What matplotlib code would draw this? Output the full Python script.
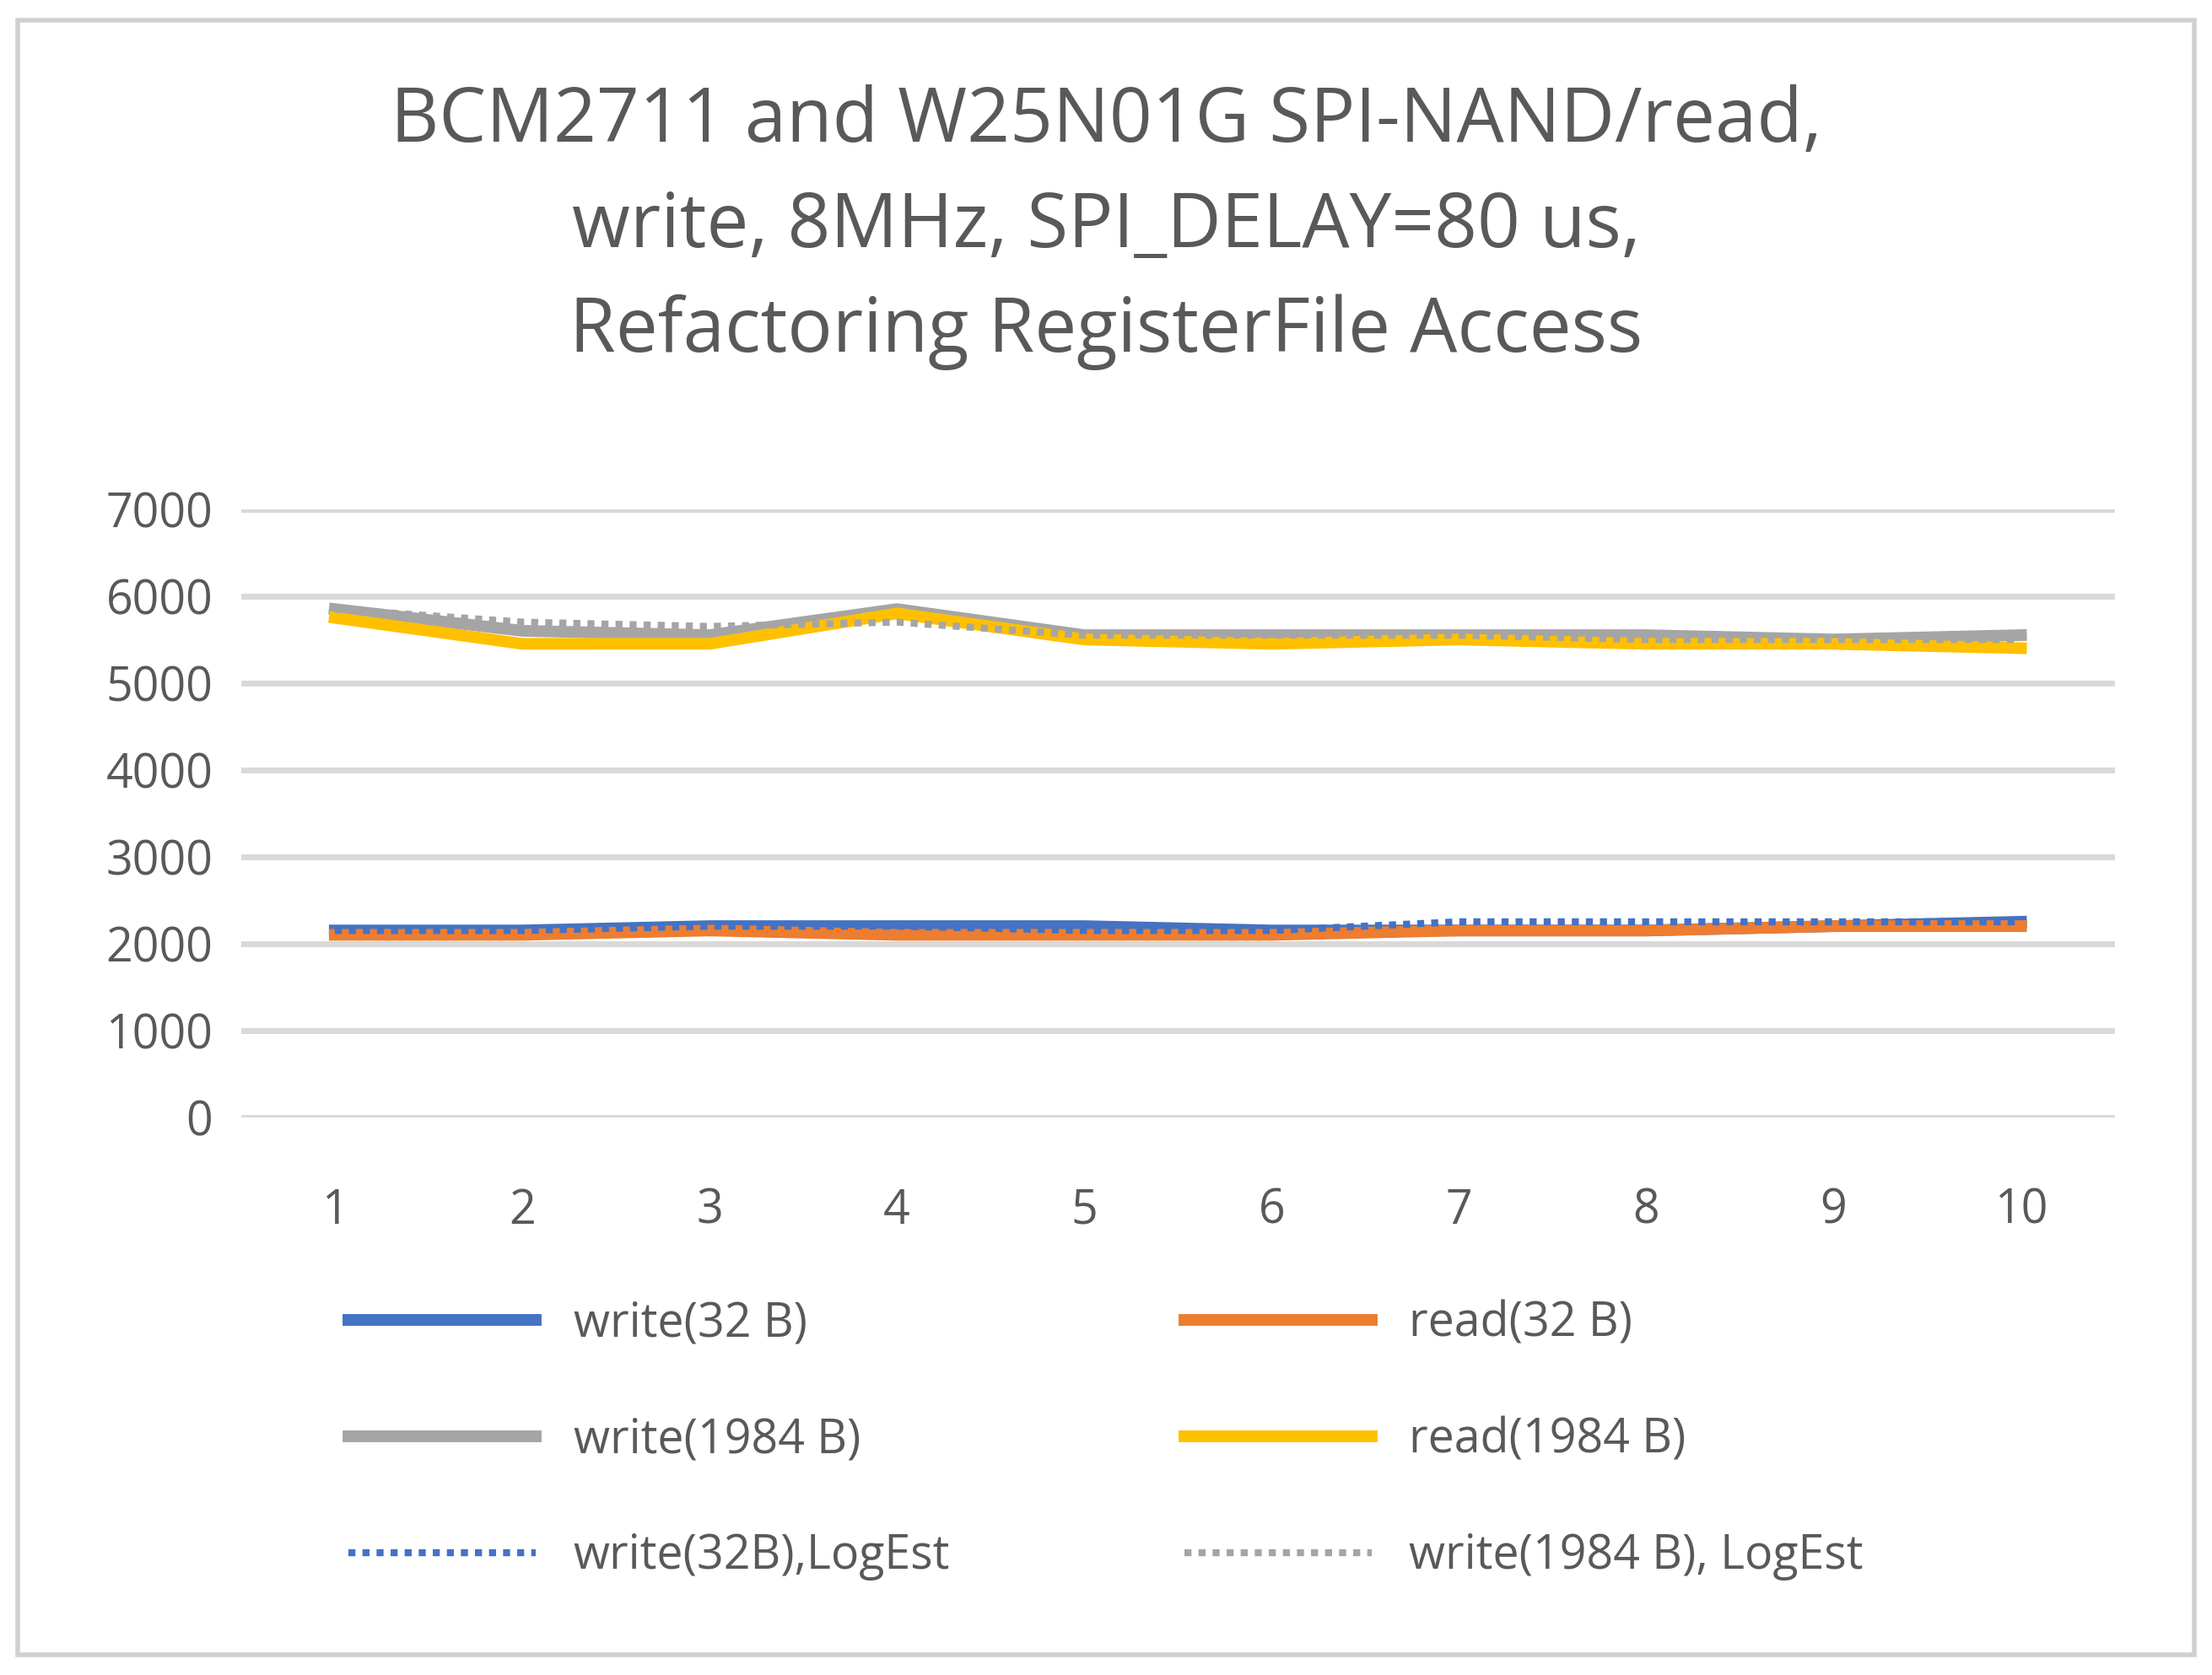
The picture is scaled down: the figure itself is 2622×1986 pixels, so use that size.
import matplotlib.pyplot as plt
from matplotlib.patches import Rectangle

runs = list(range(1, 11))
write_32 = [2150, 2150, 2200, 2200, 2200, 2150, 2150, 2150, 2200, 2250]
read_32 = [2100, 2100, 2150, 2100, 2100, 2100, 2150, 2150, 2200, 2200]
write_1984 = [5850, 5600, 5550, 5850, 5550, 5550, 5550, 5550, 5500, 5550]
read_1984 = [5750, 5450, 5450, 5800, 5500, 5450, 5500, 5450, 5450, 5400]
write_32_log = [2150, 2150, 2200, 2200, 2150, 2150, 2250, 2250, 2250, 2250]
write_1984_log = [5850, 5700, 5650, 5700, 5550, 5550, 5550, 5500, 5500, 5500]

plt.rcParams['font.family'] = ['Open Sans', 'DejaVu Sans']
fig = plt.figure(figsize=(13.11, 9.93), dpi=200)
fig.patches.append(Rectangle((0.008, 0.012), 0.984, 0.976, transform=fig.transFigure,
                             fill=False, edgecolor='#d0d0d0', linewidth=2))
ax = fig.add_axes([0.109, 0.333, 0.847, 0.363])

lw = 5
h1, = ax.plot(runs, write_32, color='#4472C4', lw=lw, label='write(32 B)')
h2, = ax.plot(runs, read_32, color='#ED7D31', lw=lw, label='read(32 B)')
h3, = ax.plot(runs, write_1984, color='#A5A5A5', lw=lw, label='write(1984 B)')
h4, = ax.plot(runs, read_1984, color='#FFC000', lw=lw, label='read(1984 B)')
h5, = ax.plot(runs, write_32_log, color='#4472C4', lw=3, ls=(0, (1, 1)), label='write(32B),LogEst')
h6, = ax.plot(runs, write_1984_log, color='#A5A5A5', lw=3, ls=(0, (1, 1)), label='write(1984 B), LogEst')

ax.set_ylim(0, 7000)
ax.set_yticks(range(0, 7001, 1000))
ax.set_xlim(0.5, 10.5)
ax.set_xticks(runs)
ax.grid(axis='y', color='#d9d9d9', lw=2.5)
ax.set_axisbelow(True)
for s in ax.spines.values():
    s.set_visible(False)
ax.tick_params(length=0, labelsize=20, colors='#595959', pad=12)
ax.tick_params(axis='x', pad=30)

fig.suptitle('BCM2711 and W25N01G SPI-NAND/read,\nwrite, 8MHz, SPI_DELAY=80 us,\nRefactoring RegisterFile Access',
             y=0.95, fontsize=32, color='#595959', linespacing=1.5)

# column-major fill, so order handles to read row by row
handles = [h1, h3, h5, h2, h4, h6]
fig.legend(handles, [h.get_label() for h in handles], loc='center', bbox_to_anchor=(0.5, 0.14),
           ncol=2, frameon=False, fontsize=20, labelcolor='#595959',
           handlelength=4, columnspacing=5, labelspacing=1.45)

fig.savefig('out.png')
